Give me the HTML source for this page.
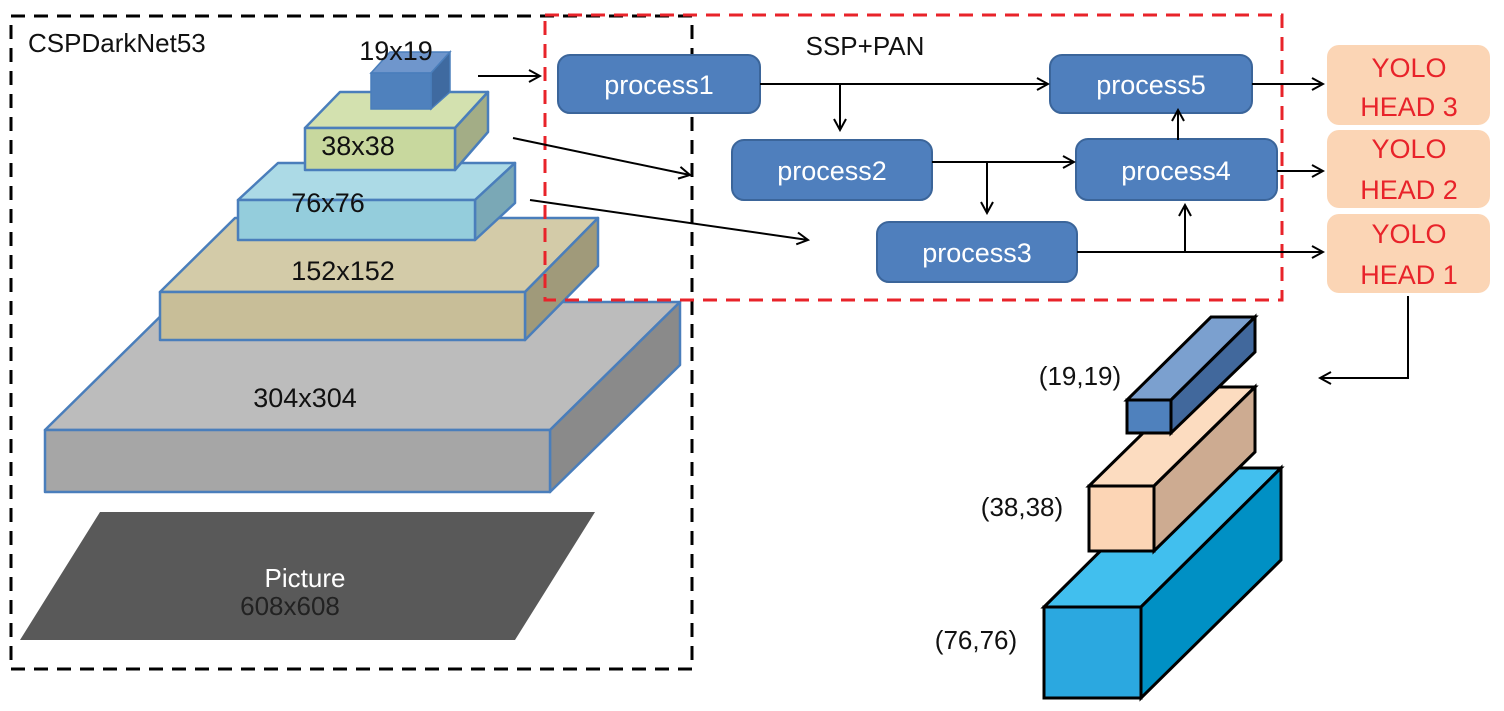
<!DOCTYPE html>
<html><head><meta charset="utf-8"><style>
html,body{margin:0;padding:0;background:#fff;}
svg{display:block;}
text{font-family:"Liberation Sans",sans-serif;}
</style></head><body>
<svg width="1504" height="711" viewBox="0 0 1504 711" xmlns="http://www.w3.org/2000/svg">
<defs>
<marker id="a" markerWidth="14" markerHeight="14" refX="12" refY="7" orient="auto" markerUnits="userSpaceOnUse">
<path d="M1,1 L12,7 L1,13" fill="none" stroke="#000" stroke-width="2"/></marker>
</defs>
<!-- Picture -->
<polygon points="100,512 595,512 515,640 20,640" fill="#595959"/>
<text x="305" y="587" font-size="26" fill="#fff" text-anchor="middle">Picture</text>
<text x="290" y="615" font-size="26" fill="#222" text-anchor="middle">608x608</text>
<g stroke="#4a7ebb" stroke-width="2.5" stroke-linejoin="round">
<!-- 304 -->
<polygon points="45,430 175,302 680,302 550,430" fill="#bcbcbc"/>
<polygon points="550,430 680,302 680,365 550,492" fill="#8a8a8a"/>
<rect x="45" y="430" width="505" height="62" fill="#a6a6a6"/>
<!-- 152 -->
<polygon points="160,292 235,218 598,218 525,292" fill="#d3cba8"/>
<polygon points="525,292 598,218 598,266 525,340" fill="#a09a7a"/>
<rect x="160" y="292" width="365" height="48" fill="#c8be98"/>
<!-- 76 -->
<polygon points="238,200 278,163 515,163 475,200" fill="#acdae6"/>
<polygon points="475,200 515,163 515,203 475,240" fill="#7aa8b6"/>
<rect x="238" y="200" width="237" height="40" fill="#94cddc"/>
<!-- 38 -->
<polygon points="305,128 340,92 488,92 455,128" fill="#d3e1af"/>
<polygon points="455,128 488,92 488,132 455,170" fill="#a3ad86"/>
<rect x="305" y="128" width="150" height="42" fill="#c8d89e"/>
</g>
<!-- 19 cube -->
<g stroke="#4a7ebb" stroke-width="1.5">
<polygon points="371,73 390,52 450,52 431,73" fill="#6f96cc"/>
<polygon points="431,73 450,52 450,92 431,109" fill="#3f6aa0"/>
<rect x="371" y="73" width="60" height="36" fill="#4f81bd"/>
</g>
<g font-size="27" fill="#111" text-anchor="middle">
<text x="396" y="60">19x19</text>
<text x="358" y="155">38x38</text>
<text x="328" y="212">76x76</text>
<text x="343" y="280">152x152</text>
<text x="305" y="407">304x304</text>
</g>
<text x="28" y="52" font-size="26" fill="#111">CSPDarkNet53</text>
<text x="865" y="55" font-size="26" fill="#111" text-anchor="middle">SSP+PAN</text>
<!-- dashed boxes -->
<rect x="11" y="16" width="681" height="653" fill="none" stroke="#000" stroke-width="3" stroke-dasharray="14,9"/>
<rect x="545" y="15" width="737" height="285" fill="none" stroke="#e8232a" stroke-width="3" stroke-dasharray="14,9"/>
<!-- processes -->
<g fill="#4f7fbd" stroke="#3b659a" stroke-width="2">
<rect x="558" y="55" width="202" height="58" rx="12"/>
<rect x="1050" y="55" width="202" height="58" rx="12"/>
<rect x="732" y="140" width="200" height="60" rx="12"/>
<rect x="1076" y="139" width="201" height="61" rx="12"/>
<rect x="877" y="222" width="200" height="60" rx="12"/>
</g>
<g font-size="27" fill="#fff" text-anchor="middle">
<text x="659" y="94">process1</text>
<text x="1151" y="94">process5</text>
<text x="832" y="180">process2</text>
<text x="1176" y="180">process4</text>
<text x="977" y="262">process3</text>
</g>
<!-- YOLO heads -->
<g fill="#fbd5b5">
<rect x="1327" y="45" width="163" height="80" rx="12"/>
<rect x="1327" y="130" width="163" height="78" rx="12"/>
<rect x="1327" y="214" width="163" height="79" rx="12"/>
</g>
<g font-size="27" fill="#e8232a" text-anchor="middle">
<text x="1409" y="77">YOLO</text><text x="1409" y="116">HEAD 3</text>
<text x="1409" y="158">YOLO</text><text x="1409" y="199">HEAD 2</text>
<text x="1409" y="243">YOLO</text><text x="1409" y="284">HEAD 1</text>
</g>
<!-- arrows -->
<g stroke="#000" stroke-width="2" fill="none" marker-end="url(#a)">
<line x1="478" y1="76" x2="540" y2="76"/>
<line x1="760" y1="84" x2="1048" y2="84"/>
<line x1="840" y1="84" x2="840" y2="130"/>
<line x1="513" y1="138" x2="690" y2="175"/>
<line x1="932" y1="162" x2="1074" y2="162"/>
<line x1="987" y1="162" x2="987" y2="213"/>
<line x1="530" y1="200" x2="808" y2="240"/>
<line x1="1077" y1="252" x2="1323" y2="252"/>
<line x1="1185" y1="252" x2="1185" y2="205"/>
<line x1="1178" y1="140" x2="1178" y2="110"/>
<line x1="1252" y1="84" x2="1323" y2="84"/>
<line x1="1277" y1="171" x2="1323" y2="171"/>
<polyline points="1408,296 1408,378 1320,378"/>
</g>
<!-- right cubes -->
<g stroke="#000" stroke-width="3" stroke-linejoin="miter">
<polygon points="1044,607 1184,468 1281,468 1141,607" fill="#41bfee"/>
<polygon points="1141,607 1281,468 1281,560 1141,698" fill="#0090c4"/>
<rect x="1044" y="607" width="97" height="91" fill="#2ba8e0"/>
<polygon points="1089,486 1190,387 1255,387 1154,486" fill="#fcdcc0"/>
<polygon points="1154,486 1255,387 1255,452 1154,551" fill="#cdab91"/>
<rect x="1089" y="486" width="65" height="65" fill="#fcd5b5"/>
<polygon points="1127,400 1211,317 1255,317 1171,400" fill="#7ba0cf"/>
<polygon points="1171,400 1255,317 1255,352 1171,433" fill="#41689c"/>
<rect x="1127" y="400" width="44" height="33" fill="#4f81bd"/>
</g>
<g font-size="26" fill="#111" text-anchor="middle">
<text x="1080" y="385">(19,19)</text>
<text x="1022" y="516">(38,38)</text>
<text x="976" y="649">(76,76)</text>
</g>
</svg>
</body></html>
